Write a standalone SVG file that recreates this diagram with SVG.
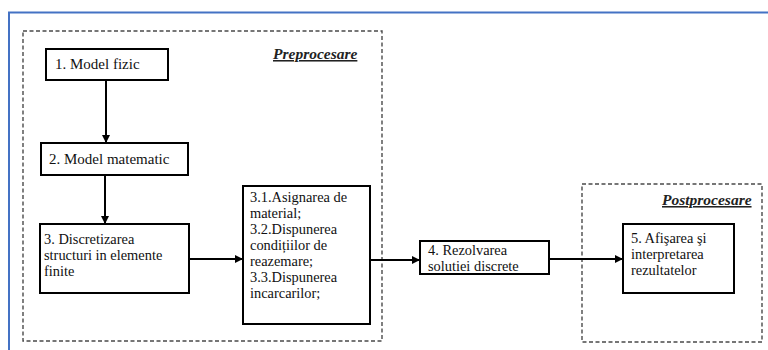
<svg xmlns="http://www.w3.org/2000/svg" width="768" height="350" viewBox="0 0 768 350">
<defs>
<marker id="ah" viewBox="0 0 10 10" refX="10" refY="5" markerWidth="4" markerHeight="4" orient="auto" markerUnits="strokeWidth">
<path d="M0,0 L10,5 L0,10 Z" fill="#000"/>
</marker>
</defs>
<style>
.node{fill:#fff;stroke:#000;stroke-width:2}
.grp{fill:none;stroke:#4a4a4a;stroke-width:1.4;stroke-dasharray:4 2.5}
.t{font-family:"Liberation Serif","Times New Roman",Tinos,serif;font-size:15px;fill:#111}
.m{font-family:"Liberation Serif","Times New Roman",Tinos,serif;font-size:14.4px;fill:#111}
.lbl{font-family:"Liberation Serif","Times New Roman",Tinos,serif;font-size:15.5px;font-weight:bold;font-style:italic;text-decoration:underline;fill:#222}
.con{fill:none;stroke:#000;stroke-width:2;marker-end:url(#ah)}
</style>
<rect width="768" height="350" fill="#fff"/>
<path d="M9,350 V12.5 H768" fill="none" stroke="#4472C4" stroke-width="2"/>
<g id="preprocesare">
<rect class="grp" x="23" y="31" width="359" height="310"/>
<text class="lbl" x="273" y="59">Preprocesare</text>
</g>
<g id="postprocesare">
<rect class="grp" x="582" y="184" width="180" height="158"/>
<text class="lbl" x="662" y="205">Postprocesare</text>
</g>
<g id="connectors">
<line class="con" x1="106" y1="80" x2="106" y2="143"/>
<line class="con" x1="105" y1="175" x2="105" y2="224"/>
<line class="con" x1="189" y1="259" x2="243" y2="259"/>
<line class="con" x1="370" y1="260" x2="420" y2="260"/>
<line class="con" x1="549" y1="259" x2="623" y2="259"/>
</g>
<g id="n1">
<rect class="node" x="46" y="49" width="122" height="31"/>
<text class="t" x="55" y="69">1. Model fizic</text>
</g>
<g id="n2">
<rect class="node" x="41" y="143" width="147" height="32"/>
<text class="t" x="49" y="164">2. Model matematic</text>
</g>
<g id="n3">
<rect class="node" x="40" y="224" width="149" height="69"/>
<text class="m" x="44" y="244">3. Discretizarea<tspan x="44" dy="16">structuri in elemente</tspan><tspan x="44" dy="16">finite</tspan></text>
</g>
<g id="n31">
<rect class="node" x="243" y="186" width="127" height="138"/>
<text class="m" x="250" y="202">3.1.Asignarea de<tspan x="250" dy="16">material;</tspan><tspan x="250" dy="16">3.2.Dispunerea</tspan><tspan x="250" dy="16">condițiilor de</tspan><tspan x="250" dy="16">reazemare;</tspan><tspan x="250" dy="16">3.3.Dispunerea</tspan><tspan x="250" dy="16">incarcarilor;</tspan></text>
</g>
<g id="n4">
<rect class="node" x="420" y="241" width="129" height="33"/>
<text class="m" x="428" y="254.5">4. Rezolvarea<tspan x="428" dy="16">solutiei discrete</tspan></text>
</g>
<g id="n5">
<rect class="node" x="623" y="224" width="111" height="69"/>
<text class="m" x="631" y="243">5. Afişarea şi<tspan x="631" dy="16">interpretarea</tspan><tspan x="631" dy="16">rezultatelor</tspan></text>
</g>
</svg>
